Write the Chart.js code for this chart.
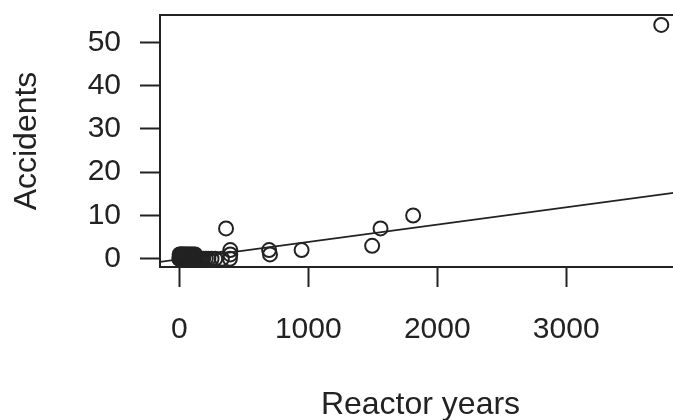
<!DOCTYPE html>
<html>
<head>
<meta charset="utf-8">
<script src="https://cdn.jsdelivr.net/npm/chart.js@4/dist/chart.umd.min.js"></script>
<style>
  html, body { margin: 0; padding: 0; background: #ffffff; overflow: hidden; width: 673px; height: 420px; }
  #wrap { position: absolute; left: 0; top: 0; width: 700px; height: 420px; }
</style>
</head>
<body>
<div id="wrap"><canvas id="c" width="700" height="420"></canvas></div>
<script>
// ---- data ----
const reactorYears = [
  0, 4, 8, 12, 16, 20, 26, 32, 38, 45, 52, 60, 68, 76, 85, 95, 105, 115, 128, 140, 155, 170, 185, 205, 225, 250, 278, 330,
  2, 10, 18, 28, 40, 52, 65, 78, 92, 108, 122,
  362, 395, 395, 392, 696, 703, 948, 1495, 1560, 1813, 3737
];
const accidents = [
  0, 0, 0, 0, 0, 0, 0, 0, 0, 0, 0, 0, 0, 0, 0, 0, 0, 0, 0, 0, 0, 0, 0, 0, 0, 0, 0, 0,
  1, 1, 1, 1, 1, 1, 1, 1, 1, 1, 1,
  7, 2, 1, 0, 2, 1, 2, 3, 7, 10, 54
];
const xTickValues = [0, 1000, 2000, 3000];
const yTickValues = [0, 10, 20, 30, 40, 50];
const fitIntercept = -0.1;
const fitSlope = 0.004;
const xRange = [-150, 3890];
const yRange = [-1.9, 56.3];
const xTitle = 'Reactor years';
const yTitle = 'Accidents';

const points = reactorYears.map((x, i) => ({ x: x, y: accidents[i] }));
const fitLine = xRange.map(x => ({ x: x, y: fitIntercept + fitSlope * x }));

const ink = '#222222';
const FONT = "'Liberation Sans', Arial, Helvetica, sans-serif";

const boxPlugin = {
  id: 'box',
  afterDatasetsDraw(chart) {
    const a = chart.chartArea, ctx = chart.ctx;
    ctx.save();
    ctx.strokeStyle = ink;
    ctx.lineWidth = 2;
    ctx.strokeRect(a.left, a.top, a.right - a.left, a.bottom - a.top);
    ctx.restore();
  }
};

new Chart(document.getElementById('c'), {
  type: 'scatter',
  data: {
    datasets: [
      {
        data: points,
        pointStyle: 'circle',
        pointRadius: 7,
        pointHoverRadius: 7,
        pointBorderWidth: 2,
        borderColor: ink,
        backgroundColor: 'rgba(0,0,0,0)'
      },
      {
        type: 'line',
        data: fitLine,
        borderColor: ink,
        borderWidth: 1.7,
        pointRadius: 0,
        fill: false
      }
    ]
  },
  options: {
    responsive: false,
    devicePixelRatio: 1,
    animation: false,
    events: [],
    layout: { padding: { left: 0, top: 15, right: 19, bottom: 0 } },
    plugins: { legend: { display: false }, tooltip: { enabled: false } },
    scales: {
      x: {
        type: 'linear',
        min: xRange[0],
        max: xRange[1],
        afterBuildTicks(s) { s.ticks = xTickValues.map(v => ({ value: v })); },
        afterFit(s) { s.height = 153; s.paddingLeft = 0; s.paddingRight = 0; s.paddingTop = 0; s.paddingBottom = 0; },
        border: { display: false },
        grid: { drawOnChartArea: false, drawTicks: true, tickLength: 20, tickWidth: 2, tickColor: ink },
        ticks: { padding: 25, color: ink, font: { family: FONT, size: 30 }, maxRotation: 0, autoSkip: false, callback: v => String(v) },
        title: { display: true, text: xTitle, color: ink, font: { family: FONT, size: 32, lineHeight: 1 }, padding: { top: 0, bottom: -1 } }
      },
      y: {
        type: 'linear',
        min: yRange[0],
        max: yRange[1],
        afterBuildTicks(s) { s.ticks = yTickValues.map(v => ({ value: v })); },
        afterFit(s) { s.width = 160; s.paddingLeft = 0; s.paddingRight = 0; s.paddingTop = 0; s.paddingBottom = 0; },
        border: { display: false },
        grid: { drawOnChartArea: false, drawTicks: true, tickLength: 20, tickWidth: 2, tickColor: ink },
        ticks: { padding: 19, color: ink, font: { family: FONT, size: 30 }, autoSkip: false, callback: v => String(v) },
        title: { display: true, text: yTitle, color: ink, font: { family: FONT, size: 32, lineHeight: 1 }, padding: { top: 11, bottom: 0 } }
      }
    }
  },
  plugins: [boxPlugin]
});
</script>
</body>
</html>
